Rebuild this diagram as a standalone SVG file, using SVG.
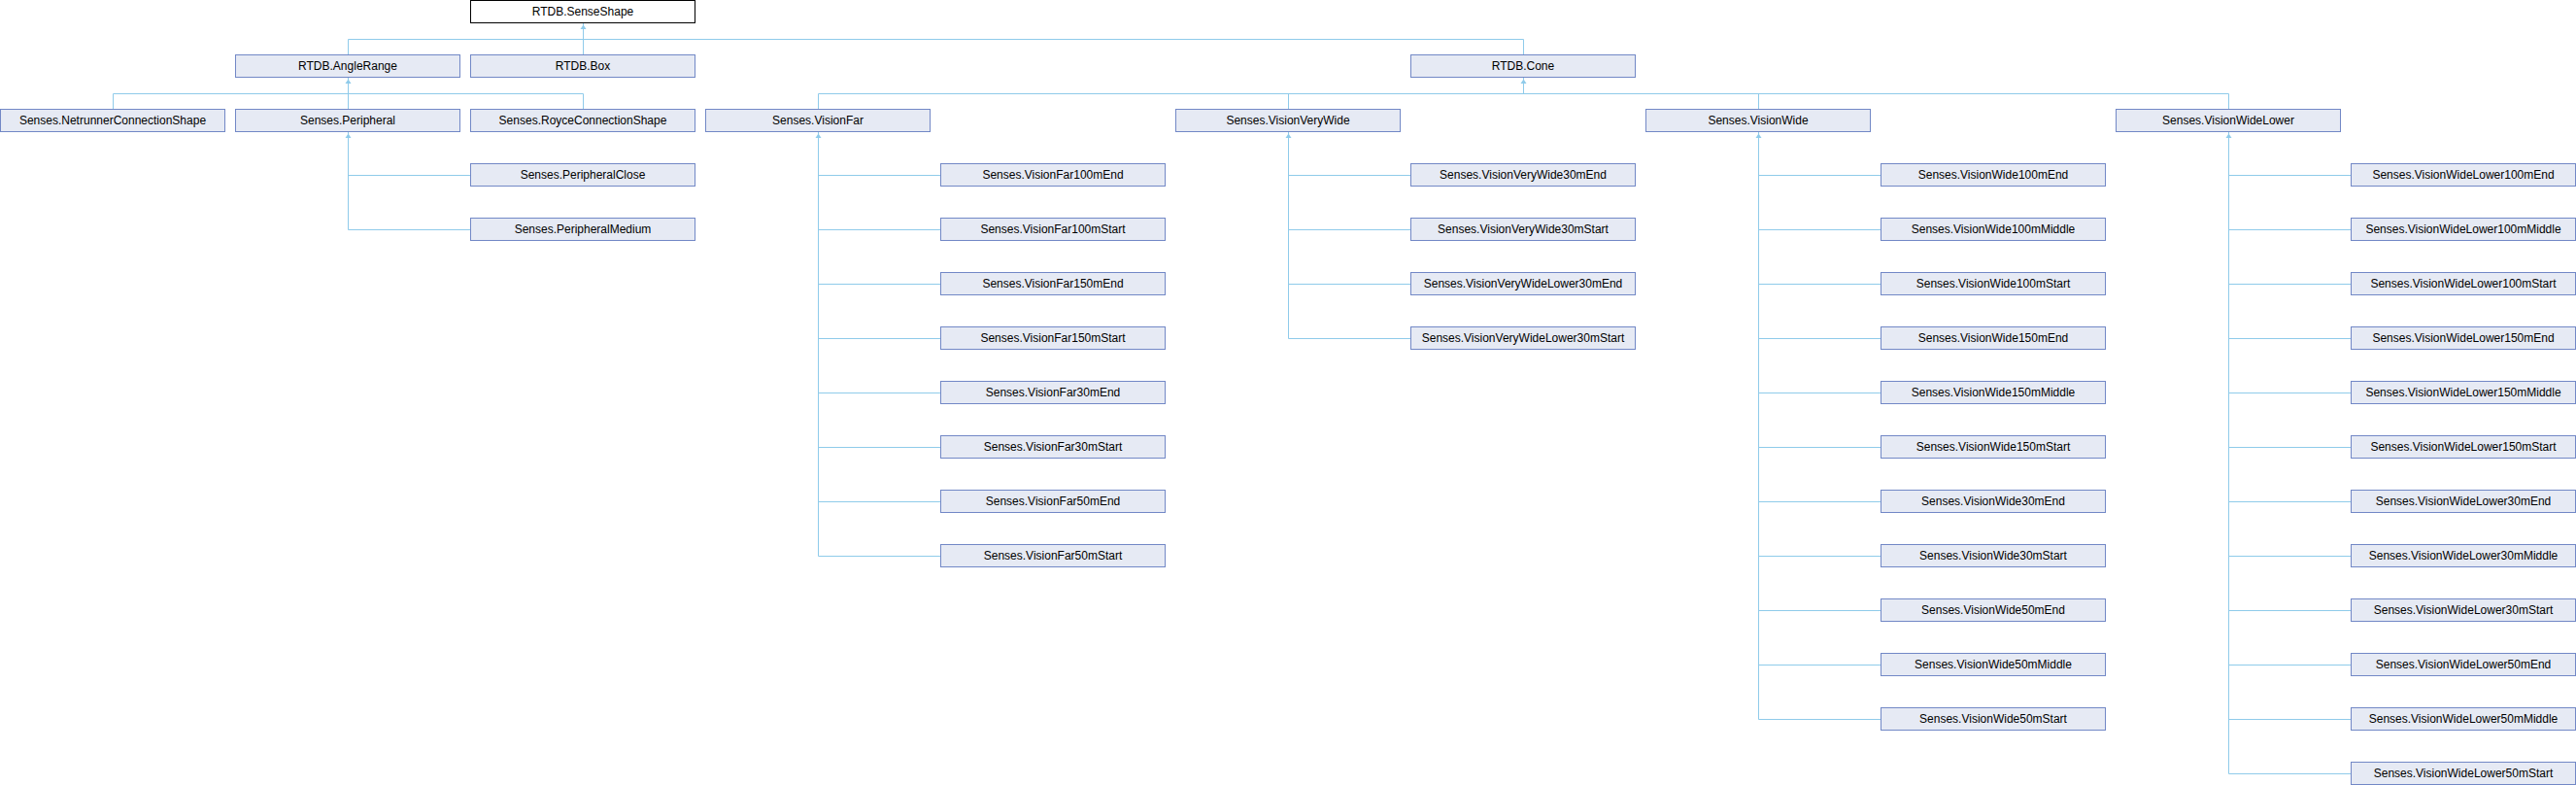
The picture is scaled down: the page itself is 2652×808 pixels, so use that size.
<svg xmlns="http://www.w3.org/2000/svg" width="2652" height="808" viewBox="0 0 2652 808">
<style>
.n rect{fill:#E6EAF4;stroke:#7288C6;stroke-width:1}
.root rect{fill:#FFFFFF;stroke:#000000;stroke-width:1}
text{font-family:"Liberation Sans",Arial,sans-serif;font-size:12px;fill:#000;text-anchor:middle}
.c path{fill:none;stroke:#8FCBEA;stroke-width:1}
.c polygon{fill:#8FCBEA;stroke:none}
</style>
<rect width="2652" height="808" fill="#FFFFFF"/>
<g class="c" id="connectors">
<path d="M600.5 23.5V56.5M358.5 40.5H1568.5M358.5 40.5V56.5M1568.5 40.5V56.5"/>
<polygon points="600.5,25.5 597.5,30 603.5,30"/>
<path d="M358.5 79.5V112.5M116.5 96.5H600.5M116.5 96.5V112.5M600.5 96.5V112.5"/>
<polygon points="358.5,81.5 355.5,86 361.5,86"/>
<path d="M358.5 135.5V236.5M358.5 180.5H484.5M358.5 236.5H484.5"/>
<polygon points="358.5,137.5 355.5,142 361.5,142"/>
<path d="M1568.5 79.5V96.5M842.5 96.5H2294.5M842.5 96.5V112.5M1326.5 96.5V112.5M1810.5 96.5V112.5M2294.5 96.5V112.5"/>
<polygon points="1568.5,81.5 1565.5,86 1571.5,86"/>
<path d="M842.5 135.5V572.5M842.5 180.5H968.5M842.5 236.5H968.5M842.5 292.5H968.5M842.5 348.5H968.5M842.5 404.5H968.5M842.5 460.5H968.5M842.5 516.5H968.5M842.5 572.5H968.5"/>
<polygon points="842.5,137.5 839.5,142 845.5,142"/>
<path d="M1326.5 135.5V348.5M1326.5 180.5H1452.5M1326.5 236.5H1452.5M1326.5 292.5H1452.5M1326.5 348.5H1452.5"/>
<polygon points="1326.5,137.5 1323.5,142 1329.5,142"/>
<path d="M1810.5 135.5V740.5M1810.5 180.5H1936.5M1810.5 236.5H1936.5M1810.5 292.5H1936.5M1810.5 348.5H1936.5M1810.5 404.5H1936.5M1810.5 460.5H1936.5M1810.5 516.5H1936.5M1810.5 572.5H1936.5M1810.5 628.5H1936.5M1810.5 684.5H1936.5M1810.5 740.5H1936.5"/>
<polygon points="1810.5,137.5 1807.5,142 1813.5,142"/>
<path d="M2294.5 135.5V796.5M2294.5 180.5H2420.5M2294.5 236.5H2420.5M2294.5 292.5H2420.5M2294.5 348.5H2420.5M2294.5 404.5H2420.5M2294.5 460.5H2420.5M2294.5 516.5H2420.5M2294.5 572.5H2420.5M2294.5 628.5H2420.5M2294.5 684.5H2420.5M2294.5 740.5H2420.5M2294.5 796.5H2420.5"/>
<polygon points="2294.5,137.5 2291.5,142 2297.5,142"/>
</g>
<g class="root" id="n-SenseShape"><rect x="484.5" y="0.5" width="231" height="23"/><text x="600" y="16">RTDB.SenseShape</text></g>
<g class="n" id="n-AngleRange"><rect x="242.5" y="56.5" width="231" height="23"/><text x="358" y="72">RTDB.AngleRange</text></g>
<g class="n" id="n-Box"><rect x="484.5" y="56.5" width="231" height="23"/><text x="600" y="72">RTDB.Box</text></g>
<g class="n" id="n-Cone"><rect x="1452.5" y="56.5" width="231" height="23"/><text x="1568" y="72">RTDB.Cone</text></g>
<g class="n" id="n-Netrunner"><rect x="0.5" y="112.5" width="231" height="23"/><text x="116" y="128">Senses.NetrunnerConnectionShape</text></g>
<g class="n" id="n-Peripheral"><rect x="242.5" y="112.5" width="231" height="23"/><text x="358" y="128">Senses.Peripheral</text></g>
<g class="n" id="n-Royce"><rect x="484.5" y="112.5" width="231" height="23"/><text x="600" y="128">Senses.RoyceConnectionShape</text></g>
<g class="n" id="n-PeripheralClose"><rect x="484.5" y="168.5" width="231" height="23"/><text x="600" y="184">Senses.PeripheralClose</text></g>
<g class="n" id="n-PeripheralMedium"><rect x="484.5" y="224.5" width="231" height="23"/><text x="600" y="240">Senses.PeripheralMedium</text></g>
<g class="n" id="n-VisionFar"><rect x="726.5" y="112.5" width="231" height="23"/><text x="842" y="128">Senses.VisionFar</text></g>
<g class="n" id="n-VisionVeryWide"><rect x="1210.5" y="112.5" width="231" height="23"/><text x="1326" y="128">Senses.VisionVeryWide</text></g>
<g class="n" id="n-VisionWide"><rect x="1694.5" y="112.5" width="231" height="23"/><text x="1810" y="128">Senses.VisionWide</text></g>
<g class="n" id="n-VisionWideLower"><rect x="2178.5" y="112.5" width="231" height="23"/><text x="2294" y="128">Senses.VisionWideLower</text></g>
<g class="n" id="n-VF100E"><rect x="968.5" y="168.5" width="231" height="23"/><text x="1084" y="184">Senses.VisionFar100mEnd</text></g>
<g class="n" id="n-VF100S"><rect x="968.5" y="224.5" width="231" height="23"/><text x="1084" y="240">Senses.VisionFar100mStart</text></g>
<g class="n" id="n-VF150E"><rect x="968.5" y="280.5" width="231" height="23"/><text x="1084" y="296">Senses.VisionFar150mEnd</text></g>
<g class="n" id="n-VF150S"><rect x="968.5" y="336.5" width="231" height="23"/><text x="1084" y="352">Senses.VisionFar150mStart</text></g>
<g class="n" id="n-VF30E"><rect x="968.5" y="392.5" width="231" height="23"/><text x="1084" y="408">Senses.VisionFar30mEnd</text></g>
<g class="n" id="n-VF30S"><rect x="968.5" y="448.5" width="231" height="23"/><text x="1084" y="464">Senses.VisionFar30mStart</text></g>
<g class="n" id="n-VF50E"><rect x="968.5" y="504.5" width="231" height="23"/><text x="1084" y="520">Senses.VisionFar50mEnd</text></g>
<g class="n" id="n-VF50S"><rect x="968.5" y="560.5" width="231" height="23"/><text x="1084" y="576">Senses.VisionFar50mStart</text></g>
<g class="n" id="n-VVW30E"><rect x="1452.5" y="168.5" width="231" height="23"/><text x="1568" y="184">Senses.VisionVeryWide30mEnd</text></g>
<g class="n" id="n-VVW30S"><rect x="1452.5" y="224.5" width="231" height="23"/><text x="1568" y="240">Senses.VisionVeryWide30mStart</text></g>
<g class="n" id="n-VVWL30E"><rect x="1452.5" y="280.5" width="231" height="23"/><text x="1568" y="296">Senses.VisionVeryWideLower30mEnd</text></g>
<g class="n" id="n-VVWL30S"><rect x="1452.5" y="336.5" width="231" height="23"/><text x="1568" y="352">Senses.VisionVeryWideLower30mStart</text></g>
<g class="n" id="n-VW100E"><rect x="1936.5" y="168.5" width="231" height="23"/><text x="2052" y="184">Senses.VisionWide100mEnd</text></g>
<g class="n" id="n-VW100M"><rect x="1936.5" y="224.5" width="231" height="23"/><text x="2052" y="240">Senses.VisionWide100mMiddle</text></g>
<g class="n" id="n-VW100S"><rect x="1936.5" y="280.5" width="231" height="23"/><text x="2052" y="296">Senses.VisionWide100mStart</text></g>
<g class="n" id="n-VW150E"><rect x="1936.5" y="336.5" width="231" height="23"/><text x="2052" y="352">Senses.VisionWide150mEnd</text></g>
<g class="n" id="n-VW150M"><rect x="1936.5" y="392.5" width="231" height="23"/><text x="2052" y="408">Senses.VisionWide150mMiddle</text></g>
<g class="n" id="n-VW150S"><rect x="1936.5" y="448.5" width="231" height="23"/><text x="2052" y="464">Senses.VisionWide150mStart</text></g>
<g class="n" id="n-VW30E"><rect x="1936.5" y="504.5" width="231" height="23"/><text x="2052" y="520">Senses.VisionWide30mEnd</text></g>
<g class="n" id="n-VW30S"><rect x="1936.5" y="560.5" width="231" height="23"/><text x="2052" y="576">Senses.VisionWide30mStart</text></g>
<g class="n" id="n-VW50E"><rect x="1936.5" y="616.5" width="231" height="23"/><text x="2052" y="632">Senses.VisionWide50mEnd</text></g>
<g class="n" id="n-VW50M"><rect x="1936.5" y="672.5" width="231" height="23"/><text x="2052" y="688">Senses.VisionWide50mMiddle</text></g>
<g class="n" id="n-VW50S"><rect x="1936.5" y="728.5" width="231" height="23"/><text x="2052" y="744">Senses.VisionWide50mStart</text></g>
<g class="n" id="n-VWL100E"><rect x="2420.5" y="168.5" width="231" height="23"/><text x="2536" y="184">Senses.VisionWideLower100mEnd</text></g>
<g class="n" id="n-VWL100M"><rect x="2420.5" y="224.5" width="231" height="23"/><text x="2536" y="240">Senses.VisionWideLower100mMiddle</text></g>
<g class="n" id="n-VWL100S"><rect x="2420.5" y="280.5" width="231" height="23"/><text x="2536" y="296">Senses.VisionWideLower100mStart</text></g>
<g class="n" id="n-VWL150E"><rect x="2420.5" y="336.5" width="231" height="23"/><text x="2536" y="352">Senses.VisionWideLower150mEnd</text></g>
<g class="n" id="n-VWL150M"><rect x="2420.5" y="392.5" width="231" height="23"/><text x="2536" y="408">Senses.VisionWideLower150mMiddle</text></g>
<g class="n" id="n-VWL150S"><rect x="2420.5" y="448.5" width="231" height="23"/><text x="2536" y="464">Senses.VisionWideLower150mStart</text></g>
<g class="n" id="n-VWL30E"><rect x="2420.5" y="504.5" width="231" height="23"/><text x="2536" y="520">Senses.VisionWideLower30mEnd</text></g>
<g class="n" id="n-VWL30M"><rect x="2420.5" y="560.5" width="231" height="23"/><text x="2536" y="576">Senses.VisionWideLower30mMiddle</text></g>
<g class="n" id="n-VWL30S"><rect x="2420.5" y="616.5" width="231" height="23"/><text x="2536" y="632">Senses.VisionWideLower30mStart</text></g>
<g class="n" id="n-VWL50E"><rect x="2420.5" y="672.5" width="231" height="23"/><text x="2536" y="688">Senses.VisionWideLower50mEnd</text></g>
<g class="n" id="n-VWL50M"><rect x="2420.5" y="728.5" width="231" height="23"/><text x="2536" y="744">Senses.VisionWideLower50mMiddle</text></g>
<g class="n" id="n-VWL50S"><rect x="2420.5" y="784.5" width="231" height="23"/><text x="2536" y="800">Senses.VisionWideLower50mStart</text></g>
</svg>
